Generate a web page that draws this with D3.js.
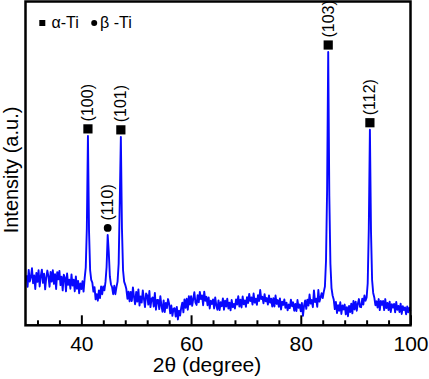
<!DOCTYPE html>
<html><head><meta charset="utf-8">
<script src="https://cdn.jsdelivr.net/npm/d3@7"></script>
<style>
body{margin:0;background:#fff}
svg{display:block}
text{font-family:"Liberation Sans",Arial,sans-serif;fill:#000}
</style>
</head><body>
<svg id="c" width="429" height="379"></svg>
<script>
// ---- data ----
const angleStart = 30, angleStep = 0.2;   // 2θ grid of the scan
const intensity = [
155,119,171,135,149, 176,130,154,112,162, 134,170,120,152,172, 131,159,111,147,169,
151,119,165,135,170, 128,158,112,164,142, 168,124,150,108,156, 147,105,160,125,141,
113,157,123,141,105, 151,113,137,99,129,
112,136,104,145,178, 300,585,290,170,140, 132,104,118,80,96, 76,108,84,120,96,
120,108,134,180,279, 225,150,126,118,96, 122,96,118,135,190, 380,582,300,170,135,
125,112,82,104,74, 103,75,117,87,65,
103,73,111,61,89, 70,108,82,56,98, 92,64,106,56,82, 86,58,100,48,78, 78,50,90,60,42,
77,41,69,53,81, 67,37,61,29,51, 53,27,57,18,45, 30,54,70,40,80, 54,82,48,90,64,
90,60,82,102,70, 63,93,71,103,81, 92,62,104,76,88, 62,86,52,76,66, 80,52,86,62,48,
77,47,71,59,83, 48,76,58,82,52, 70,46,78,56,66, 52,80,64,90,58, 79,55,89,65,77,
57,87,69,97,75, 86,64,98,70,82, 63,93,75,109,81, 88,68,96,74,84, 64,92,70,82,58,
84,58,92,66,78, 57,83,49,73,63, 80,54,70,46,64, 53,79,59,71,45, 66,44,78,54,64,
43,69,29,61,77, 51,79,61,95,67, 78,56,108,72,82, 57,109,73,85,99, 84,104,120,200,420,
844,400,190,115,92, 80,50,72,38,62, 45,71,35,61,49, 64,34,56,28,60, 41,67,37,75,49,
73,45,67,81,57, 56,82,64,92,76, 86,130,300,604,290, 140,100,86,62,74, 55,81,47,75,63,
75,47,81,53,69, 47,73,41,65,55, 66,40,72,48,60, 41,67,35,59,47, 55,34,58,40,54,
44
];
const peakAngles = [41.2, 44.8, 47.2, 85.0, 92.6];
const peakLabels = ["(100)", "(110)", "(101)", "(103)", "(112)"];
const peakPhases = ["alpha", "beta", "alpha", "alpha", "alpha"];
const legendLabels = ["α-Ti", "β -Ti"];
const majorTicks = [40, 60, 80, 100];
const minorTicks = [32, 36, 44, 48, 52, 56, 64, 68, 72, 76, 84, 88, 92, 96];
const xDomain = [30, 100];
const yDomain = [0, 1000];

// ---- drawing ----
const svg = d3.select("#c");
const L = 25.5, R = 410.5, T = 1.5, B = 325.3;
const x = d3.scaleLinear().domain(xDomain).range([26.5, 410.5]);
const y = d3.scaleLinear().domain(yDomain).range([B, T]);

const pts = intensity.map((v, i) => [angleStart + i * angleStep, v]);

svg.append("path")
  .datum(pts)
  .attr("fill", "none")
  .attr("stroke", "#0808ff")
  .attr("stroke-width", 1.9)
  .attr("stroke-linejoin", "round")
  .attr("d", d3.line().x(d => x(d[0])).y(d => y(d[1])));

// axes ticks (inward)
const gx = svg.append("g").attr("transform", `translate(0,${B})`);
gx.call(d3.axisBottom(x).tickValues(majorTicks).tickSizeInner(-10).tickSizeOuter(0).tickPadding(11).tickFormat(d3.format("d")));
gx.select(".domain").remove();
gx.selectAll(".tick line").attr("stroke", "#000").attr("stroke-width", 2);
gx.selectAll(".tick text").style("font-size", "21px").style("font-family", "'Liberation Sans',Arial,sans-serif").attr("fill", "#000");

const gm = svg.append("g").attr("transform", `translate(0,${B})`);
gm.call(d3.axisBottom(x).tickValues(minorTicks).tickSizeInner(-5).tickSizeOuter(0).tickFormat(""));
gm.select(".domain").remove();
gm.selectAll(".tick line").attr("stroke", "#000").attr("stroke-width", 2);

// frame
svg.append("rect").attr("x", L).attr("y", T).attr("width", R - L).attr("height", B - T)
  .attr("fill", "none").attr("stroke", "#000").attr("stroke-width", 2.5);

// axis titles
svg.append("text").attr("x", 207).attr("y", 372).attr("text-anchor", "middle")
  .style("font-size", "21px").text("2θ (degree)");
svg.append("text").attr("transform", "translate(18,170) rotate(-90)").attr("text-anchor", "middle")
  .style("font-size", "20px").text("Intensity (a.u.)");

// peak markers and labels
peakAngles.forEach((a, i) => {
  const idx = Math.round((a - angleStart) / angleStep);
  const px = x(a), py = y(intensity[idx]) - 7;
  if (peakPhases[i] === "alpha") {
    svg.append("rect").attr("x", px - 4.6).attr("y", py - 4.6).attr("width", 9.2).attr("height", 9.2).attr("fill", "#000");
  } else {
    svg.append("circle").attr("cx", px).attr("cy", py).attr("r", 3.9).attr("fill", "#000");
  }
  svg.append("text")
    .attr("transform", `translate(${px + 5.5},${py - 7.5}) rotate(-90)`)
    .style("font-size", "16px")
    .text(peakLabels[i]);
});

// legend
svg.append("rect").attr("x", 39.3).attr("y", 20).attr("width", 6).attr("height", 6).attr("fill", "#000");
svg.append("text").attr("x", 51.5).attr("y", 28).style("font-size", "16px").text(legendLabels[0]);
svg.append("circle").attr("cx", 94.2).attr("cy", 23).attr("r", 3).attr("fill", "#000");
svg.append("text").attr("x", 100).attr("y", 28).style("font-size", "16px").text(legendLabels[1]);
</script>
</body></html>
